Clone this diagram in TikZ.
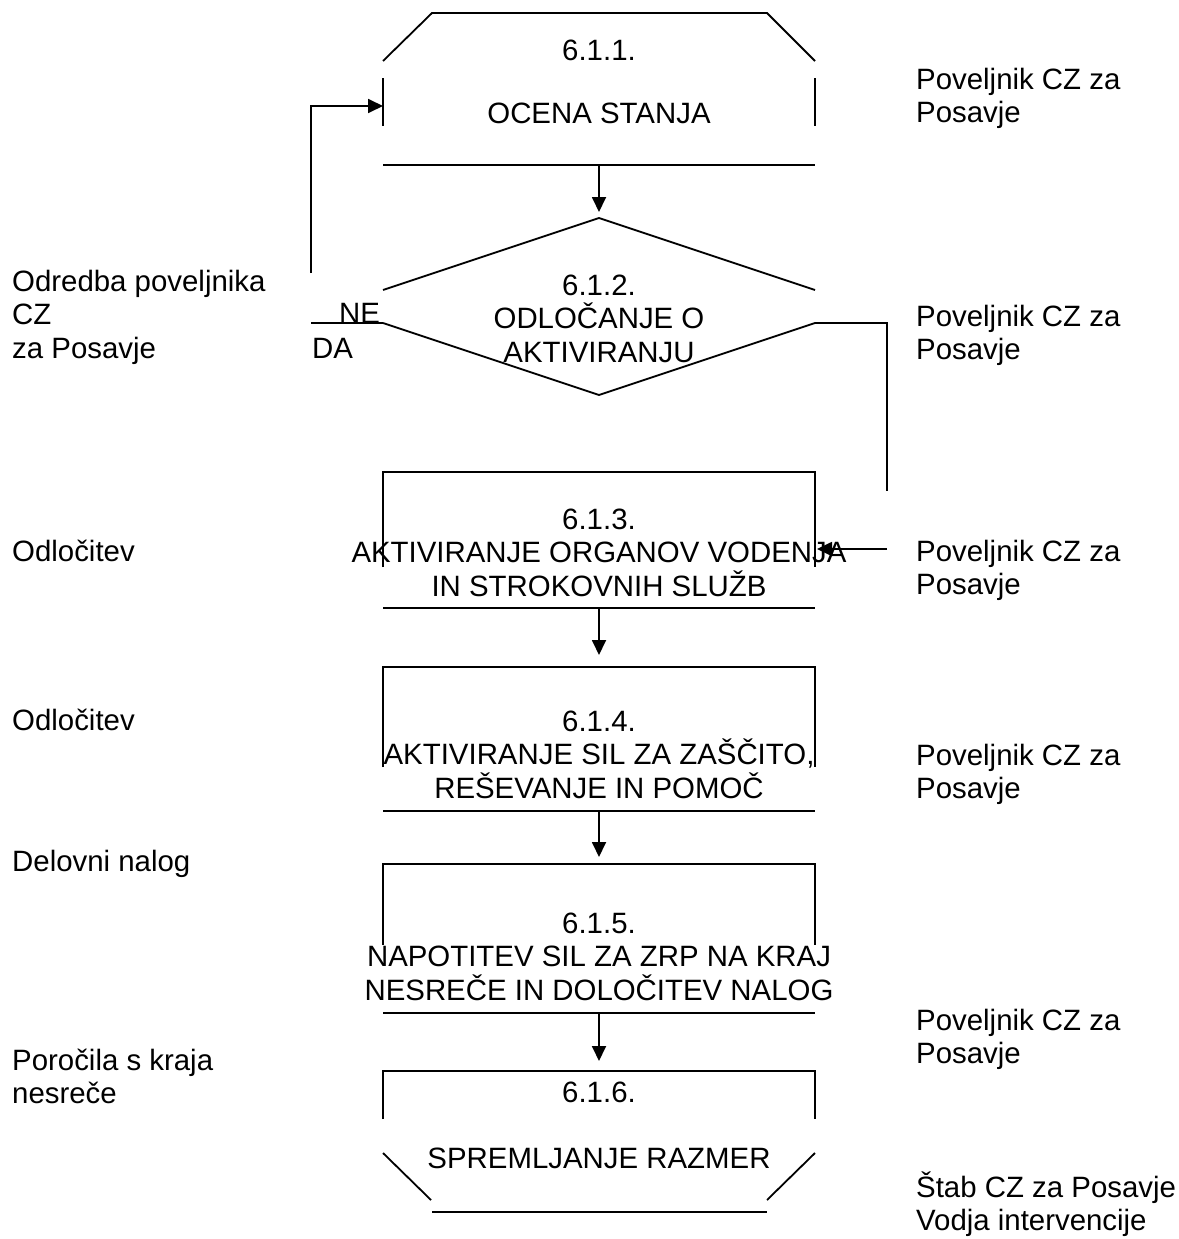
\documentclass[tikz,border=0pt]{standalone}
\usepackage{fontspec}
\setmainfont{Liberation Sans}
\usetikzlibrary{arrows.meta}
\newcommand\ccol[1]{\vtop{\halign{\hfil##\hfil\cr#1\crcr}}}
\newcommand\lcol[1]{\vtop{\halign{##\hfil\cr#1\crcr}}}
\begin{document}
\begin{tikzpicture}[x=1pt,y=-1pt,
  ln/.style={line width=1.8pt},
  arr/.style={line width=1.8pt,-{Triangle[length=15pt,width=14pt]}},
  txt/.style={inner sep=0pt, font=\fontsize{29.4pt}{33.8pt}\selectfont, anchor=base},
  side/.style={inner sep=0pt, font=\fontsize{29.4pt}{33.8pt}\selectfont, anchor=base west}]
\useasboundingbox (0,0) rectangle (1178,1239);

% ---------- box 1 (6.1.1.)
\draw[ln] (383,61) -- (432,13) -- (767,13) -- (815,61);
\draw[ln] (383,78) -- (383,126);
\draw[ln] (815,78) -- (815,126);
\draw[ln] (383,165) -- (815,165);
\node[txt] (t1) at (599,60) {6.1.1.};
\node[txt] (t1b) at (599,123) {OCENA STANJA};
\coordinate (b1w) at (383,106);
\coordinate (b1s) at (599,165);

% ---------- decision (6.1.2.)
\draw[ln] (383,290) -- (599,218) -- (815,290);
\draw[ln] (383,323) -- (599,395) -- (815,323);
\node[txt] (t2) at (599,295) {\ccol{6.1.2.\cr ODLOČANJE O\cr AKTIVIRANJU}};
\coordinate (d2n) at (599,218);
\coordinate (d2w) at (383,323);
\coordinate (d2e) at (815,323);
\node[side] (ne) at (339,323) {NE};
\node[side] (da) at (312,358) {DA};

% ---------- box 3
\draw[ln] (383,567) -- (383,472) -- (815,472) -- (815,567);
\draw[ln] (383,608) -- (815,608);
\node[txt] (t3) at (599,529) {\ccol{6.1.3.\cr AKTIVIRANJE ORGANOV VODENJA\cr IN STROKOVNIH SLUŽB}};
\coordinate (b3n) at (599,472);
\coordinate (b3e) at (817,549);
\coordinate (b3s) at (599,608);

% ---------- box 4
\draw[ln] (383,767) -- (383,667) -- (815,667) -- (815,767);
\draw[ln] (383,811) -- (815,811);
\node[txt] (t4) at (599,731) {\ccol{6.1.4.\cr AKTIVIRANJE SIL ZA ZAŠČITO,\cr REŠEVANJE IN POMOČ}};
\coordinate (b4n) at (599,667);
\coordinate (b4s) at (599,811);

% ---------- box 5
\draw[ln] (383,945) -- (383,864) -- (815,864) -- (815,945);
\draw[ln] (383,1013) -- (815,1013);
\node[txt] (t5) at (599,933) {\ccol{6.1.5.\cr NAPOTITEV SIL ZA ZRP NA KRAJ\cr NESREČE IN DOLOČITEV NALOG}};
\coordinate (b5n) at (599,864);
\coordinate (b5s) at (599,1013);

% ---------- box 6
\draw[ln] (383,1119) -- (383,1071) -- (815,1071) -- (815,1119);
\draw[ln] (383,1153) -- (431,1200);
\draw[ln] (815,1153) -- (767,1200);
\draw[ln] (432,1212) -- (767,1212);
\node[txt] (t6) at (599,1102) {6.1.6.};
\node[txt] (t6b) at (599,1168) {SPREMLJANJE RAZMER};
\coordinate (b6n) at (599,1071);

% ---------- connectors
\coordinate (gap1) at (599,212);
\coordinate (gap3) at (599,655);
\coordinate (gap4) at (599,857);
\coordinate (gap5) at (599,1061);
\draw[arr] (b1s) -- (gap1);
\draw[arr] (b3s) -- (gap3);
\draw[arr] (b4s) -- (gap4);
\draw[arr] (b5s) -- (gap5);

\coordinate (loopA) at (311,273);
\coordinate (loopB) at (311,106);
\coordinate (neL) at (311,323);
\draw[arr] (loopA) -- (loopB) -- (b1w);
\draw[ln] (neL) -- (d2w);

\coordinate (rA) at (887,323);
\coordinate (rB) at (887,491);
\coordinate (rC) at (887,549);
\draw[ln] (d2e) -- (rA) -- (rB);
\draw[arr] (rC) -- (b3e);

% ---------- side texts left
\node[side] (l1) at (12,291) {\lcol{Odredba poveljnika\cr CZ\cr za Posavje}};
\node[side] (l2) at (12,561) {Odločitev};
\node[side] (l3) at (12,730) {Odločitev};
\node[side] (l4) at (12,871) {Delovni nalog};
\node[side] (l5) at (12,1070) {\lcol{Poročila s kraja\cr nesreče}};

% ---------- side texts right
\node[side] (r1) at (916,89) {\lcol{Poveljnik CZ za\cr Posavje}};
\node[side] (r2) at (916,326) {\lcol{Poveljnik CZ za\cr Posavje}};
\node[side] (r3) at (916,561) {\lcol{Poveljnik CZ za\cr Posavje}};
\node[side] (r4) at (916,765) {\lcol{Poveljnik CZ za\cr Posavje}};
\node[side] (r5) at (916,1030) {\lcol{Poveljnik CZ za\cr Posavje}};
\node[side] (r6) at (916,1197) {\lcol{Štab CZ za Posavje\cr Vodja intervencije}};
\end{tikzpicture}
\end{document}
